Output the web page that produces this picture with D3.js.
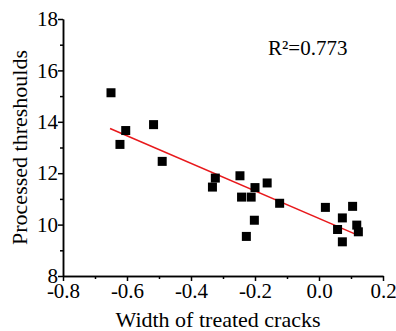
<!DOCTYPE html>
<meta charset="utf-8">
<style>
    body { margin: 0; background: #fff; }
    svg text { font-family: "Liberation Serif", "Times New Roman", serif; fill: #000; }
    .axis path, .axis line { stroke: #000; stroke-width: 1.5px; }
    .axis text { font-size: 21px; }
</style>
<body>
<script src="https://cdn.jsdelivr.net/npm/d3@7"></script>
<script>
    /* data */
    var widthCracks = [-0.650, -0.622, -0.604, -0.517, -0.490, -0.324, -0.333, -0.247, -0.242, -0.212, -0.200,
        -0.202, -0.227, -0.162, -0.123, 0.020, 0.105, 0.073, 0.058, 0.073, 0.118, 0.123];
    var thresholds = [15.13, 13.12, 13.66, 13.89, 12.46, 11.81, 11.46, 11.90, 11.07, 11.07, 11.44,
        10.17, 9.54, 11.62, 10.83, 10.67, 10.71, 10.26, 9.81, 9.33, 9.98, 9.72];
    // fitted line, end points
    var fitX = [-0.653, 0.121];
    var fitY = [13.74, 9.59];
    var xTicks = [-0.8, -0.6, -0.4, -0.2, 0.0, 0.2];
    var yTicks = [8, 10, 12, 14, 16, 18];
    var xMinor = [-0.7, -0.5, -0.3, -0.1, 0.1];
    var yMinor = [9, 11, 13, 15, 17];
    var r2Label = "R\u00b2=0.773";

    var w = 396, h = 331;
    var padLeft = 63, padRight = 383, padTop = 19, padBottom = 276;

    var svg = d3.select("body").append("svg")
        .attr("width", w)
        .attr("height", h);

    var xScale = d3.scaleLinear().domain([-0.8, 0.2]).range([padLeft, padRight]);
    var yScale = d3.scaleLinear().domain([8, 18]).range([padBottom, padTop]);

    // minor ticks
    svg.append("g")
        .attr("class", "axis")
        .attr("transform", "translate(0," + padBottom + ")")
        .call(d3.axisBottom(xScale).tickValues(xMinor).tickSize(3).tickSizeOuter(0).tickFormat(""));
    svg.append("g")
        .attr("class", "axis")
        .attr("transform", "translate(" + padLeft + ",0)")
        .call(d3.axisLeft(yScale).tickValues(yMinor).tickSize(3).tickSizeOuter(0).tickFormat(""));

    // major axes
    var xAxis = svg.append("g")
        .attr("class", "axis")
        .attr("transform", "translate(0," + padBottom + ")")
        .call(d3.axisBottom(xScale).tickValues(xTicks).tickSize(5).tickSizeOuter(0));
    xAxis.selectAll("text").attr("y", 7).text(function (d) { return d.toFixed(1); });

    var yAxis = svg.append("g")
        .attr("class", "axis")
        .attr("transform", "translate(" + padLeft + ",0)")
        .call(d3.axisLeft(yScale).tickValues(yTicks).tickSize(5).tickSizeOuter(0).tickFormat(d3.format("d")));
    yAxis.selectAll("text").attr("x", -5);

    // fit line
    var fitData = fitX.map(function (d, i) { return [d, fitY[i]]; });
    svg.append("path")
        .attr("d", d3.line()
            .x(function (d) { return xScale(d[0]); })
            .y(function (d) { return yScale(d[1]); })(fitData))
        .attr("fill", "none")
        .attr("stroke", "#e8191c")
        .attr("stroke-width", 1.6);

    // points
    var sz = 9;
    svg.selectAll("rect.pt")
        .data(widthCracks)
        .enter()
        .append("rect")
        .attr("class", "pt")
        .attr("x", function (d) { return xScale(d) - sz / 2; })
        .attr("y", function (d, i) { return yScale(thresholds[i]) - sz / 2; })
        .attr("width", sz)
        .attr("height", sz)
        .attr("fill", "#000");

    svg.append("text")
        .attr("x", 268)
        .attr("y", 55)
        .attr("font-size", 21)
        .text(r2Label);

    // axis titles
    svg.append("text")
        .attr("x", 218)
        .attr("y", 327)
        .attr("text-anchor", "middle")
        .attr("font-size", 22)
        .text("Width of treated cracks");

    svg.append("text")
        .attr("transform", "translate(27," + ((padTop + padBottom) / 2) + ") rotate(-90)")
        .attr("text-anchor", "middle")
        .attr("font-size", 22)
        .text("Processed threshoulds");
</script>
</body>
